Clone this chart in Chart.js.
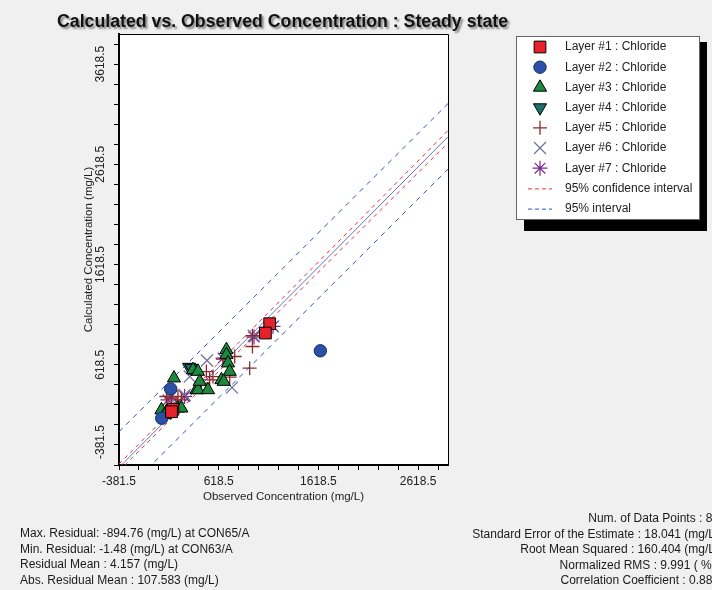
<!DOCTYPE html>
<html>
<head>
<meta charset="utf-8">
<script src="https://cdn.jsdelivr.net/npm/chart.js@4.4.0/dist/chart.umd.min.js"></script>
<style>
  html, body { margin: 0; padding: 0; background: #f0f0f0; }
  canvas { display: block; }
</style>
</head>
<body>
<canvas id="chart" width="712" height="590"></canvas>
<script>
// observed / calculated pairs (mg/L)
const layer1 = [[1130, 1028], [1087, 935], [160, 175], [145, 150]];
const layer2 = [[1638, 758], [137, 378], [47, 85]];
const layer3 = [[170, 485], [696, 768], [696, 718], [712, 635], [729, 551], [646, 468], [669, 451],
  [361, 568], [411, 551], [395, 368], [411, 368], [511, 368], [428, 451], [44, 168], [94, 151],
  [210, 185], [244, 185], [127, 130], [80, 118]];
const layer4 = [[321, 595], [345, 585]];
const layer5 = [[957, 908], [957, 801], [779, 701], [929, 585], [662, 675], [561, 501], [495, 551],
  [528, 468], [445, 435], [94, 302], [144, 285], [210, 302], [244, 268], [729, 495], [190, 230]];
const layer6 = [[501, 661], [328, 501], [752, 391], [970, 908], [1163, 1001], [194, 218], [277, 318]];
const layer7 = [[973, 895], [1163, 1001], [144, 302], [277, 302], [110, 268], [662, 685]];

// fitted line and interval lines, y values at the two ends of the x axis
const lineX = [-381.5, 2918.5];
const fitLine = [-406, 2893];
const confUpper = [-372, 2955];
const confLower = [-440, 2832];
const predUpper = [-50, 3224];
const predLower = [-703, 2570];

const xRange = [-381.5, 2918.5];
const yRange = [-381.5, 3918.5];
const tickStep = 200;
const xTickLabels = [-381.5, 618.5, 1618.5, 2618.5];
const yTickLabels = [-381.5, 618.5, 1618.5, 2618.5, 3618.5];

const leftStats = [
  "Max. Residual: -894.76 (mg/L) at CON65/A",
  "Min. Residual: -1.48 (mg/L) at CON63/A",
  "Residual Mean : 4.157 (mg/L)",
  "Abs. Residual Mean : 107.583 (mg/L)"
];
const rightStats = [
  "Num. of Data Points : 80",
  "Standard Error of the Estimate : 18.041 (mg/L)",
  "Root Mean Squared : 160.404 (mg/L)",
  "Normalized RMS : 9.991 ( % )",
  "Correlation Coefficient : 0.888"
];

const FONT = "'Liberation Sans', Arial, sans-serif";

function pts(arr) { return arr.map(p => ({ x: p[0], y: p[1] })); }
function linePts(ys) { return lineX.map((x, i) => ({ x: x, y: ys[i] })); }
function stepTicks(min, max) {
  const t = [];
  for (let v = min; v <= max; v += tickStep) t.push({ value: v });
  return t;
}

const markerSets = [
  { label: "Layer #1 : Chloride", data: layer1, pointStyle: "rect", radius: 8.3, fill: "#e8202a", stroke: "#000", bw: 1, rot: 0 },
  { label: "Layer #2 : Chloride", data: layer2, pointStyle: "circle", radius: 6.2, fill: "#2b50a6", stroke: "#1a2c66", bw: 1, rot: 0 },
  { label: "Layer #3 : Chloride", data: layer3, pointStyle: "triangle", radius: 7.6, fill: "#1c8a3e", stroke: "#000", bw: 1, rot: 0 },
  { label: "Layer #4 : Chloride", data: layer4, pointStyle: "triangle", radius: 7.6, fill: "#19706f", stroke: "#000", bw: 1, rot: 180 },
  { label: "Layer #5 : Chloride", data: layer5, pointStyle: "cross", radius: 7, fill: "#8b2a2a", stroke: "#8b2a2a", bw: 1.3, rot: 0 },
  { label: "Layer #6 : Chloride", data: layer6, pointStyle: "crossRot", radius: 8.5, fill: "#6d6d9e", stroke: "#6d6d9e", bw: 1.2, rot: 0 },
  { label: "Layer #7 : Chloride", data: layer7, pointStyle: "star", radius: 7.5, fill: "#7d2a8e", stroke: "#7d2a8e", bw: 1.2, rot: 0 }
];

const datasets = markerSets.map(m => ({
  type: "scatter",
  label: m.label,
  data: pts(m.data),
  pointStyle: m.pointStyle,
  pointRadius: m.radius,
  pointRotation: m.rot,
  backgroundColor: m.fill,
  borderColor: m.stroke,
  pointBorderWidth: m.bw,
  borderWidth: m.bw
}));

function lineSet(ys, color, dash, width) {
  return {
    type: "line", data: linePts(ys), borderColor: color, borderWidth: width,
    borderDash: dash, pointRadius: 0, fill: false, tension: 0
  };
}
datasets.push(lineSet(fitLine, "#5a78c8", [], 1));
datasets.push(lineSet(confUpper, "#f03030", [4, 4], 1));
datasets.push(lineSet(confLower, "#f03030", [4, 4], 1));
datasets.push(lineSet(predUpper, "#3050c8", [5, 5], 1));
datasets.push(lineSet(predLower, "#3050c8", [5, 5], 1));

const decorations = {
  id: "decorations",
  beforeDraw(chart) {
    const { ctx, chartArea: a } = chart;
    ctx.save();
    ctx.fillStyle = "#f0f0f0";
    ctx.fillRect(0, 0, chart.width, chart.height);
    ctx.fillStyle = "#ffffff";
    ctx.fillRect(a.left, a.top, a.right - a.left, a.bottom - a.top);
    ctx.restore();
  },
  afterDraw(chart) {
    const { ctx, chartArea: a } = chart;
    ctx.save();

    // plot frame (top / right)
    ctx.strokeStyle = "#000";
    ctx.lineWidth = 1;
    ctx.beginPath();
    ctx.moveTo(a.left, a.top + 0.5);
    ctx.lineTo(a.right + 0.5, a.top + 0.5);
    ctx.lineTo(a.right + 0.5, a.bottom);
    ctx.stroke();

    // y tick labels, rotated
    const ys = chart.scales.y;
    ctx.font = "12px " + FONT;
    ctx.fillStyle = "#222";
    ctx.textAlign = "center";
    ctx.textBaseline = "middle";
    yTickLabels.forEach(v => {
      const txt = String(v);
      const w = ctx.measureText(txt).width;
      let cy = ys.getPixelForValue(v);
      if (cy + w / 2 > a.bottom - 6) cy = a.bottom - 6 - w / 2;
      ctx.save();
      ctx.translate(101, cy);
      ctx.rotate(-Math.PI / 2);
      ctx.fillText(txt, 0, 0);
      ctx.restore();
    });

    // title with shadow
    const title = "Calculated vs. Observed Concentration : Steady state";
    ctx.font = "bold 18px " + FONT;
    ctx.textAlign = "left";
    ctx.textBaseline = "alphabetic";
    const tw = ctx.measureText(title).width;
    ctx.save();
    ctx.translate(57, 27);
    ctx.scale(451 / tw, 1);
    ctx.shadowColor = "rgba(0,0,0,0.45)";
    ctx.shadowOffsetX = 2;
    ctx.shadowOffsetY = 2;
    ctx.shadowBlur = 2;
    ctx.fillStyle = "#111";
    ctx.fillText(title, 0, 0);
    ctx.restore();

    // legend
    ctx.fillStyle = "#000";
    ctx.fillRect(524, 42, 183, 189);
    ctx.fillStyle = "#fff";
    ctx.fillRect(516, 36, 184, 184);
    ctx.strokeStyle = "#666";
    ctx.lineWidth = 1;
    ctx.strokeRect(516.5, 36.5, 183, 183);

    ctx.font = "12px " + FONT;
    ctx.textBaseline = "middle";
    ctx.textAlign = "left";
    markerSets.forEach((m, i) => {
      const y = 47 + i * 20.2;
      ctx.fillStyle = m.fill;
      ctx.strokeStyle = m.stroke;
      ctx.lineWidth = m.bw;
      Chart.helpers.drawPoint(ctx, { pointStyle: m.pointStyle, rotation: m.rot, radius: m.radius, borderWidth: m.bw }, 540, y);
      ctx.fillStyle = "#222";
      ctx.fillText(m.label, 565, y);
    });
    const lineEntries = [["95% confidence interval", "#f03030"], ["95% interval", "#3050c8"]];
    lineEntries.forEach((e, j) => {
      const y = 47 + (7 + j) * 20.2;
      ctx.strokeStyle = e[1];
      ctx.lineWidth = 1;
      ctx.setLineDash([4, 3]);
      ctx.beginPath();
      ctx.moveTo(528, y + 0.5);
      ctx.lineTo(552, y + 0.5);
      ctx.stroke();
      ctx.setLineDash([]);
      ctx.fillStyle = "#222";
      ctx.fillText(e[0], 565, y);
    });

    // statistics text
    ctx.fillStyle = "#1a1a1a";
    ctx.textAlign = "left";
    leftStats.forEach((s, i) => ctx.fillText(s, 20, 534 + i * 15.4));
    ctx.textAlign = "right";
    rightStats.forEach((s, i) => ctx.fillText(s, 719, 519 + i * 15.4));

    ctx.restore();
  }
};

new Chart(document.getElementById("chart"), {
  type: "scatter",
  data: { datasets: datasets },
  plugins: [decorations],
  options: {
    responsive: false,
    animation: false,
    events: [],
    layout: { padding: { left: 76, right: 264, top: 34, bottom: 85 } },
    plugins: { legend: { display: false }, tooltip: { enabled: false }, title: { display: false } },
    scales: {
      x: {
        type: "linear",
        min: xRange[0],
        max: xRange[1],
        afterBuildTicks: s => { s.ticks = stepTicks(xRange[0], xRange[1]); },
        afterFit: s => { s.height = 40; },
        ticks: {
          autoSkip: false, maxRotation: 0, minRotation: 0, padding: 4,
          color: "#222", font: { size: 12, family: FONT },
          callback: v => xTickLabels.includes(v) ? String(v) : ""
        },
        grid: { drawOnChartArea: false, drawTicks: true, tickLength: 5, color: "#000", tickColor: "#000", tickWidth: 1 },
        border: { color: "#000", width: 2 },
        title: { display: true, text: "Observed Concentration (mg/L)", color: "#222", font: { size: 11.5, family: FONT }, padding: { top: 2, bottom: 1 } }
      },
      y: {
        type: "linear",
        min: yRange[0],
        max: yRange[1],
        afterBuildTicks: s => { s.ticks = stepTicks(yRange[0], yRange[1]); },
        afterFit: s => { s.width = 43; },
        ticks: { autoSkip: false, padding: 0, callback: () => "" },
        grid: { drawOnChartArea: false, drawTicks: true, tickLength: 5, color: "#000", tickColor: "#000", tickWidth: 1 },
        border: { color: "#000", width: 2 },
        title: { display: true, text: "Calculated Concentration (mg/L)", color: "#222", font: { size: 11.5, family: FONT }, padding: { top: 6, bottom: 0 } }
      }
    }
  }
});
</script>
</body>
</html>
